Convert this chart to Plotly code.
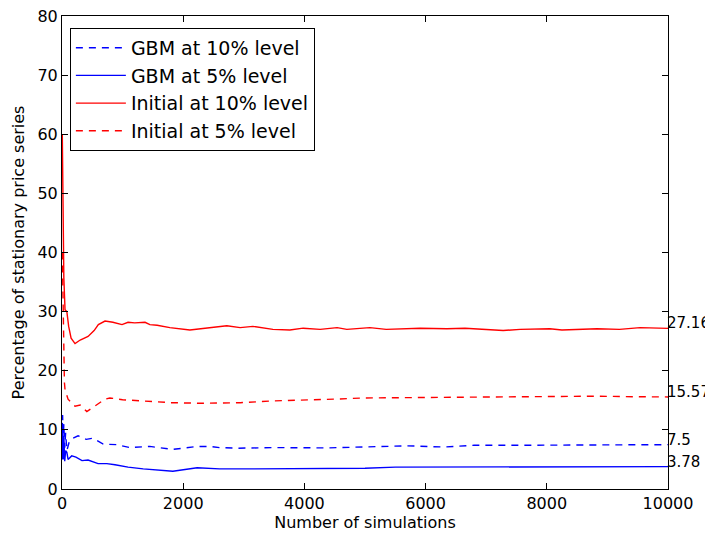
import plotly.graph_objects as go

# ---- data ----
init10_x = [5, 15, 30, 50, 80, 110, 150, 215, 300, 430, 530, 600, 710, 840, 990, 1090, 1200, 1370,
            1450, 1570, 1780, 2110, 2390, 2720, 2940, 3150, 3480, 3760, 3980, 4260, 4540, 4700,
            5080, 5350, 5910, 6350, 6650, 7010, 7280, 7560, 8050, 8250, 8830, 9200, 9540, 10000]
init10_y = [60, 44.5, 35.8, 30.3, 30.0, 27.5, 25.5, 24.6, 25.2, 25.8, 26.8, 27.8, 28.4, 28.2, 27.8,
            28.2, 28.1, 28.2, 27.8, 27.7, 27.3, 26.9, 27.2, 27.6, 27.3, 27.5, 27.0, 26.9, 27.2, 27.0,
            27.3, 27.0, 27.3, 27.0, 27.2, 27.1, 27.2, 27.0, 26.8, 27.0, 27.1, 26.9, 27.1, 27.0, 27.3, 27.16]

init5_x = [5, 20, 40, 50, 100, 215, 300, 410, 545, 710, 790, 1000, 1320, 1800, 2300, 2940, 3500,
           4000, 4500, 5000, 6000, 7000, 8000, 8800, 9500, 10000]
init5_y = [40, 27, 18, 16.8, 15.2, 14.0, 14.2, 13.1, 14.0, 15.2, 15.4, 15.1, 14.9, 14.6, 14.5, 14.6,
           14.9, 15.0, 15.2, 15.4, 15.45, 15.5, 15.6, 15.7, 15.6, 15.57]

gbm10_x = [3, 10, 20, 30, 45, 60, 80, 120, 180, 265, 400, 510, 680, 900, 1120, 1450, 1830, 2230,
           2440, 2600, 2890, 3500, 4370, 5000, 5700, 6300, 6800, 7560, 8500, 9500, 10000]
gbm10_y = [10, 12.5, 8, 11, 7, 9.5, 6.5, 8.0, 8.6, 9.0, 8.4, 8.6, 7.6, 7.5, 7.0, 7.2, 6.7, 7.2,
           7.2, 7.0, 6.9, 7.0, 6.95, 7.1, 7.3, 7.1, 7.4, 7.4, 7.4, 7.45, 7.5]

gbm5_x = [3, 10, 20, 30, 45, 60, 80, 100, 160, 230, 330, 430, 595, 740, 875, 1090, 1340, 1670,
          1830, 2230, 2600, 3000, 4000, 4500, 5000, 5500, 6000, 7000, 8000, 9000, 10000]
gbm5_y = [5, 11, 5, 9, 4.7, 6.5, 6.2, 5.0, 5.6, 5.4, 4.8, 4.9, 4.3, 4.3, 4.1, 3.7, 3.4, 3.1,
          3.0, 3.6, 3.4, 3.4, 3.4, 3.4, 3.5, 3.7, 3.7, 3.75, 3.7, 3.75, 3.78]

end_labels = ["27.16", "15.57", "7.5", "3.78"]
end_values = [27.16, 15.57, 7.5, 3.78]

x_ticks = [0, 2000, 4000, 6000, 8000, 10000]
x_tick_text = ["0", "2000", "4000", "6000", "8000", "10000"]
y_ticks = [0, 10, 20, 30, 40, 50, 60, 70, 80]

DASH = "7px,6px"
fig = go.Figure()
fig.add_trace(go.Scatter(x=gbm10_x, y=gbm10_y, mode="lines", name="GBM at 10% level",
                         line=dict(color="#0000ff", width=1.4, dash=DASH)))
fig.add_trace(go.Scatter(x=gbm5_x, y=gbm5_y, mode="lines", name="GBM at 5% level",
                         line=dict(color="#0000ff", width=1.4)))
fig.add_trace(go.Scatter(x=init10_x, y=init10_y, mode="lines", name="Initial at 10% level",
                         line=dict(color="#ff0000", width=1.4)))
fig.add_trace(go.Scatter(x=init5_x, y=init5_y, mode="lines", name="Initial at 5% level",
                         line=dict(color="#ff0000", width=1.4, dash=DASH)))

for lab, v in zip(end_labels, end_values):
    fig.add_annotation(x=10000, y=v, xref="x", yref="y", text=lab, showarrow=False,
                       xanchor="left", yanchor="middle", yshift=5, xshift=-3,
                       font=dict(family="DejaVu Sans", size=15, color="black"))

axis_common = dict(showline=True, linecolor="black", linewidth=1, mirror="ticks",
                   ticks="inside", ticklen=6, tickcolor="black", showgrid=False,
                   zeroline=False, automargin=False, ticklabeloverflow="allow",
                   tickfont=dict(family="DejaVu Sans", size=16, color="black"))

# page body has an 8px margin, so the figure is sized/offset to land the plot at 62..668 x 16..489
fig.update_layout(
    width=705, height=528,
    margin=dict(l=54, r=45, t=8, b=47),
    paper_bgcolor="white", plot_bgcolor="white",
    font=dict(family="DejaVu Sans", color="black"),
    xaxis=dict(range=[0, 10000], tickvals=x_ticks, ticktext=x_tick_text,
               title=dict(text="Number of simulations", font=dict(size=16), standoff=4),
               **axis_common),
    yaxis=dict(range=[0, 80], tickvals=y_ticks,
               title=dict(text="Percentage of stationary price series", font=dict(size=16), standoff=8),
               **axis_common),
    legend=dict(x=0.013, y=0.975, xanchor="left", yanchor="top",
                bgcolor="white", bordercolor="black", borderwidth=1,
                font=dict(family="DejaVu Sans", size=19, color="black"),
                itemwidth=50, tracegroupgap=0),
    showlegend=True,
)

fig.write_html("out.html")
